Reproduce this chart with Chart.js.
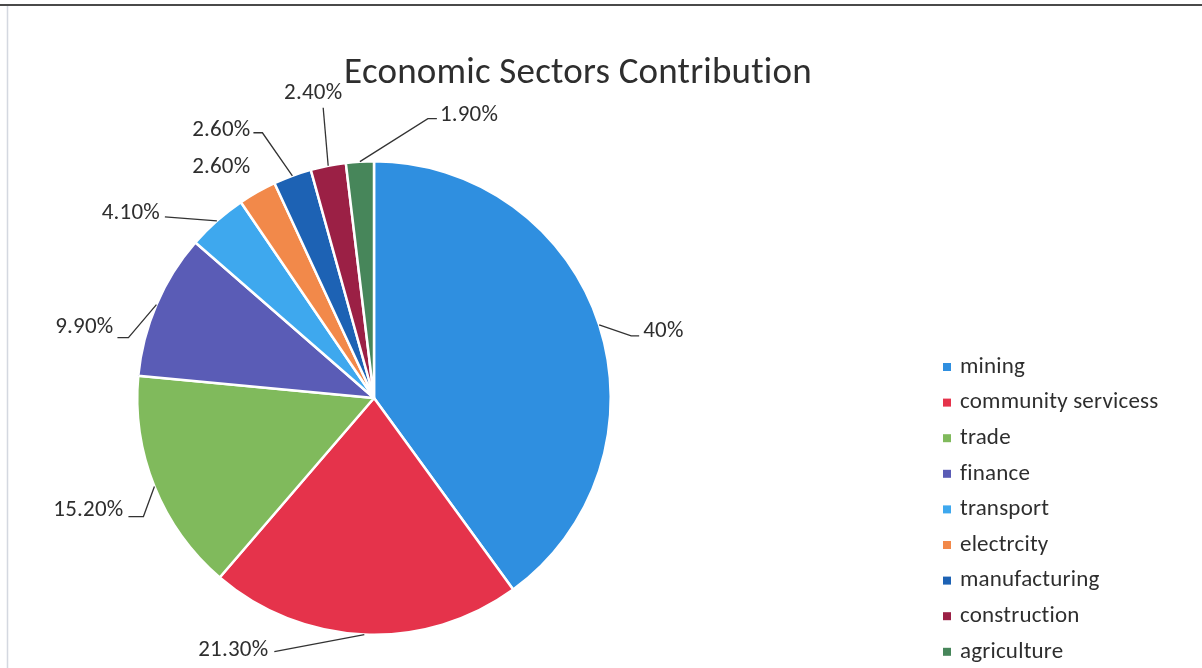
<!DOCTYPE html>
<html><head><meta charset="utf-8">
<script src="https://cdn.jsdelivr.net/npm/chart.js@4/dist/chart.umd.min.js"></script>
<style>
html,body{margin:0;padding:0;background:#fff;}
#wrap{position:relative;width:1202px;height:668px;}
</style></head><body>
<div id="wrap"><canvas id="c"></canvas></div>
<script>
const chartTitle = 'Economic Sectors Contribution';
const categories = ['mining','community servicess','trade','finance','transport','electrcity','manufacturing','construction','agriculture'];
const shares = [40, 21.3, 15.2, 9.9, 4.1, 2.6, 2.6, 2.4, 1.9];
const valueLabels = ['40%','21.30%','15.20%','9.90%','4.10%','2.60%','2.60%','2.40%','1.90%'];
const sliceColors = ['#2f8fe0','#e5334b','#80ba5c','#5a5cb6','#3ea8ee','#f2894a','#1d62b4','#9b2045','#47865a'];

// label placement relative to each slice's outer edge point (layout only)
const labelLayout = [
  {dx:44, dy:6, align:'left', line:[32,11,40,11]},
  {dx:-96, dy:16, align:'right', line:[-90,17,-90,17]},
  {dx:-31, dy:24, align:'right', line:[-11,30,-26,30]},
  {dx:-43, dy:23, align:'right', line:[-28,33,-39,33]},
  {dx:-57, dy:-8, align:'right', line:[-52,-4,-52,-4]},
  {dx:-7, dy:-25, align:'right', line:null},
  {dx:-42, dy:-46, align:'right', line:[-30,-43,-39,-43]},
  {dx:-15, dy:-72, align:'center', line:[-5,-58,-5,-58]},
  {dx:80, dy:-46, align:'left', line:[68,-43,77,-43]}
];
const FONT = 'Carlito, Lato, sans-serif';
const TEXT = '#2e2e2e';

const decorPlugin = {
  id:'decor',
  beforeDraw(chart){
    const ctx = chart.ctx;
    ctx.save();
    ctx.fillStyle='#fff'; ctx.fillRect(0,0,chart.width,chart.height);
    ctx.strokeStyle='#4a4a4a'; ctx.lineWidth=2;
    ctx.beginPath(); ctx.moveTo(0,5); ctx.lineTo(chart.width,5); ctx.stroke();
    ctx.strokeStyle='#d4d8e0'; ctx.lineWidth=1.5;
    ctx.beginPath(); ctx.moveTo(7.5,6); ctx.lineTo(7.5,chart.height); ctx.stroke();
    ctx.restore();
  },
  afterDatasetsDraw(chart){
    const ctx = chart.ctx;
    const meta = chart.getDatasetMeta(0);
    ctx.save();
    ctx.letterSpacing = '0.2px';
    // title
    ctx.fillStyle = TEXT;
    ctx.font = '37px ' + FONT;
    ctx.textAlign='center'; ctx.textBaseline='middle';
    ctx.fillText(chartTitle, 578, 74);
    // data labels + leader lines
    ctx.font = '23px ' + FONT;
    ctx.strokeStyle = '#333333'; ctx.lineWidth = 1.3;
    meta.data.forEach((arc,i)=>{
      const p = arc.getProps(['x','y','startAngle','endAngle','outerRadius'], true);
      const mid = (p.startAngle+p.endAngle)/2;
      const ex = p.x + Math.cos(mid)*p.outerRadius;
      const ey = p.y + Math.sin(mid)*p.outerRadius;
      const L = labelLayout[i];
      if (L.line){
        ctx.beginPath();
        ctx.moveTo(ex,ey);
        ctx.lineTo(ex+L.line[0], ey+L.line[1]);
        ctx.lineTo(ex+L.line[2], ey+L.line[3]);
        ctx.stroke();
      }
      ctx.textAlign = L.align; ctx.textBaseline='middle';
      ctx.fillText(valueLabels[i], ex+L.dx, ey+L.dy);
    });
    // legend
    ctx.font = '23px ' + FONT;
    ctx.textAlign='left'; ctx.textBaseline='middle';
    categories.forEach((c,i)=>{
      const y = 367 + i*35.6;
      ctx.fillStyle = sliceColors[i];
      ctx.fillRect(943, y-4, 8, 8);
      ctx.fillStyle = TEXT;
      ctx.fillText(c, 960, y);
    });
    ctx.restore();
  }
};

new Chart(document.getElementById('c'), {
  type:'pie',
  data:{
    labels: categories,
    datasets:[{data: shares, backgroundColor: sliceColors, borderColor:'#ffffff', borderWidth:2.5}]
  },
  options:{
    responsive:true, maintainAspectRatio:false, animation:false,
    layout:{padding:{left:136, top:160, right:590, bottom:32}},
    plugins:{legend:{display:false}, title:{display:false}, tooltip:{enabled:false}}
  },
  plugins:[decorPlugin]
});
</script>
</body></html>
